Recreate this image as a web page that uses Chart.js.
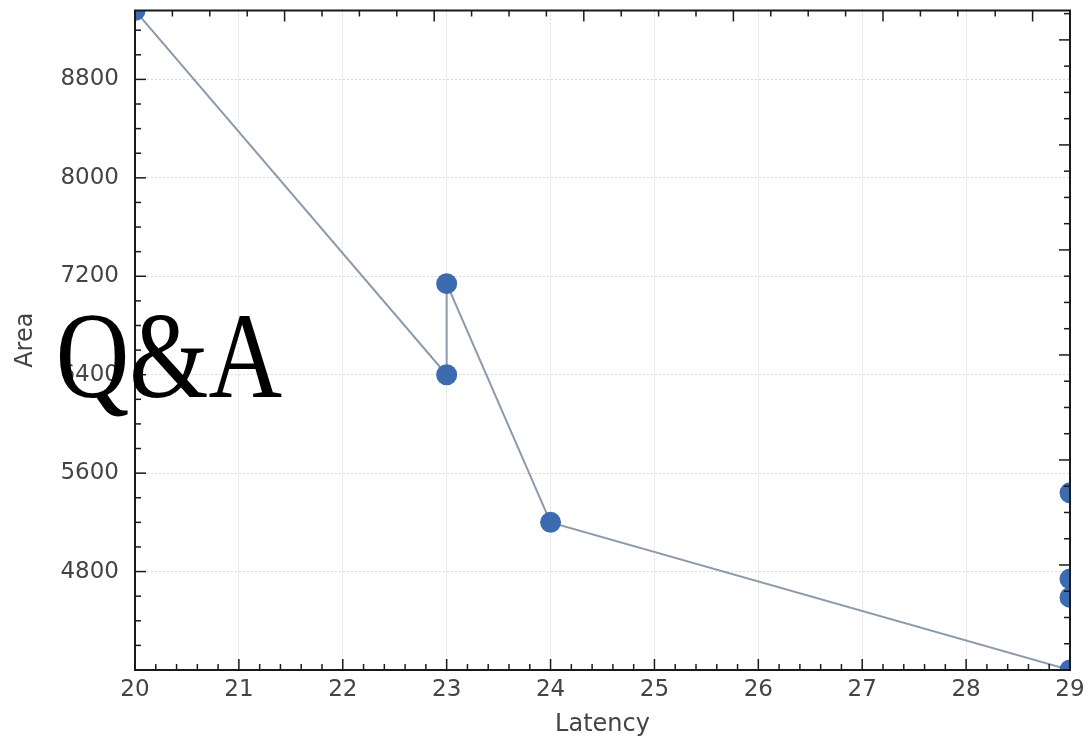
<!DOCTYPE html>
<html>
<head>
<meta charset="utf-8">
<script src="https://cdn.jsdelivr.net/npm/chart.js@4.4.1/dist/chart.umd.min.js"></script>
<style>
  html, body { margin: 0; padding: 0; background: #fff; }
  canvas { display: block; }
</style>
</head>
<body>
<canvas id="myChart" width="1090" height="737" style="width:1090px;height:737px"></canvas>
<script>
// design points on the front, in drawing order
const latency = [20, 23, 23, 24, 29];
const area = [9360, 6400, 7140, 5200, 4000];

// remaining designs at latency 29
const otherLatency = [29, 29, 29];
const otherArea = [5440, 4740, 4590];

const xTicks = [20, 21, 22, 23, 24, 25, 26, 27, 28, 29];
const yTicks = [4800, 5600, 6400, 7200, 8000, 8800];

const overlayLabel = 'Q&A';

const labelFont = { family: 'DejaVu Sans', size: 23 };
const titleFont = { family: 'DejaVu Sans', size: 24 };
const textColor = '#444';

// inward tick marks on all four sides, frame drawn on top of the points
const tickMarks = {
    id: 'tickMarks',
    afterDatasetsDraw(chart) {
        const { ctx, chartArea: a } = chart;
        const sides = [
            { id: 'x', major: 1, minor: 0.2 },
            { id: 'y', major: 800, minor: 200 },
            { id: 'x2', major: 1, minor: 0.25 },
            { id: 'y2', major: 1, minor: 0.25 }
        ];
        ctx.save();
        ctx.strokeStyle = '#1a1a1a';
        ctx.lineWidth = 1.5;
        sides.forEach(s => {
            const sc = chart.scales[s.id];
            const n = Math.floor((sc.max - sc.min) / s.minor + 1e-6);
            for (let i = 0; i <= n; i++) {
                const v = sc.min + i * s.minor;
                const r = v / s.major;
                const len = Math.abs(r - Math.round(r)) < 1e-6 ? 11 : 6;
                const p = sc.getPixelForValue(v);
                ctx.beginPath();
                if (s.id === 'x') { ctx.moveTo(p, a.bottom); ctx.lineTo(p, a.bottom - len); }
                if (s.id === 'x2') { ctx.moveTo(p, a.top); ctx.lineTo(p, a.top + len); }
                if (s.id === 'y') { ctx.moveTo(a.left, p); ctx.lineTo(a.left + len, p); }
                if (s.id === 'y2') { ctx.moveTo(a.right, p); ctx.lineTo(a.right - len, p); }
                ctx.stroke();
            }
        });
        ctx.lineWidth = 2;
        ctx.strokeRect(a.left, a.top, a.right - a.left, a.bottom - a.top);
        ctx.restore();
    }
};

const overlayText = {
    id: 'overlayText',
    afterDraw(chart) {
        const ctx = chart.ctx;
        ctx.save();
        ctx.font = '122px "Liberation Serif"';
        ctx.fillStyle = '#000';
        ctx.textBaseline = 'alphabetic';
        const m = ctx.measureText(overlayLabel);
        const inkW = m.actualBoundingBoxLeft + m.actualBoundingBoxRight;
        ctx.translate(60, 397);
        ctx.scale(222 / inkW, 1);
        ctx.fillText(overlayLabel, m.actualBoundingBoxLeft, 0);
        ctx.restore();
    }
};

const plainNumber = v => String(v);

const data = {
    datasets: [
        {
            data: latency.map((x, i) => ({ x: x, y: area[i] })),
            showLine: true,
            borderColor: '#8d9aab',
            borderWidth: 2,
            pointRadius: 10.5,
            pointBorderWidth: 0,
            pointBackgroundColor: '#3d6bb0',
            clip: 0
        },
        {
            data: otherLatency.map((x, i) => ({ x: x, y: otherArea[i] })),
            showLine: false,
            pointRadius: 10.5,
            pointBorderWidth: 0,
            pointBackgroundColor: '#3d6bb0',
            clip: 0
        }
    ]
};

const config = {
    type: 'scatter',
    data: data,
    options: {
        responsive: false,
        animation: false,
        layout: { padding: { top: 6, right: 20, left: 0, bottom: 0 } },
        plugins: {
            legend: { display: false },
            tooltip: { enabled: false }
        },
        scales: {
            x: {
                type: 'linear',
                position: 'bottom',
                min: xTicks[0],
                max: xTicks[xTicks.length - 1],
                afterBuildTicks: s => { s.ticks = xTicks.map(v => ({ value: v })); },
                afterFit: s => { s.height = 67; s.paddingLeft = 0; s.paddingRight = 0; },
                ticks: { font: labelFont, color: textColor, padding: 6, maxRotation: 0, callback: plainNumber },
                grid: { color: '#dadada', lineWidth: 1, drawTicks: false },
                border: { display: false, dash: [2, 2] },
                title: { display: true, text: 'Latency', font: titleFont, color: textColor, padding: { top: 0, bottom: -2 } }
            },
            y: {
                type: 'linear',
                position: 'left',
                min: 4000,
                max: 9360,
                afterBuildTicks: s => { s.ticks = yTicks.map(v => ({ value: v })); },
                afterFit: s => { s.width = 135; s.paddingTop = 0; s.paddingBottom = 0; },
                ticks: { font: labelFont, color: textColor, padding: 16, callback: plainNumber },
                grid: { color: '#dadada', lineWidth: 1, drawTicks: false },
                border: { display: false, dash: [2, 2] },
                title: { display: true, text: 'Area', font: titleFont, color: textColor, padding: { top: 11, bottom: 0 } }
            },
            x2: {
                type: 'linear',
                position: 'top',
                min: 0,
                max: 6.25,
                afterFit: s => { s.height = 0; s.paddingLeft = 0; s.paddingRight = 0; },
                ticks: { display: false },
                grid: { display: false, drawTicks: false },
                border: { display: false }
            },
            y2: {
                type: 'linear',
                position: 'right',
                min: 0,
                max: 6.28,
                afterFit: s => { s.width = 0; s.paddingTop = 0; s.paddingBottom = 0; },
                ticks: { display: false },
                grid: { display: false, drawTicks: false },
                border: { display: false }
            }
        }
    },
    plugins: [tickMarks, overlayText]
};

const myChart = new Chart(document.getElementById('myChart'), config);
</script>
</body>
</html>
